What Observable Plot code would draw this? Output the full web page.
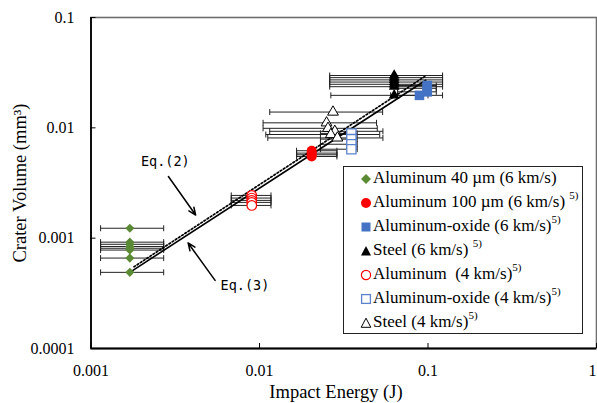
<!DOCTYPE html>
<html><head><meta charset="utf-8">
<script src="https://cdn.jsdelivr.net/npm/d3@7"></script>
<script src="https://cdn.jsdelivr.net/npm/@observablehq/plot@0.6"></script>
<style>
body{margin:0;background:#fff;}
#wrap{position:relative;width:597px;height:403px;overflow:hidden;}
#legend{position:absolute;left:342.7px;top:165.7px;width:240px;height:168.6px;border:1.3px solid #222;box-sizing:border-box;background:#fff;font-family:"Liberation Serif","Times New Roman",serif;font-size:17px;color:#000;}
.row{position:absolute;left:0;height:24px;line-height:24px;white-space:pre;}
.row svg{position:absolute;left:14.3px;top:5px;}
.row .t{position:absolute;left:29.3px;top:0;}
.sup{font-size:11px;position:relative;top:-8px;}
</style>
</head><body>
<div id="wrap"><div id="chart"></div><div id="legend"></div></div>
<script>
// [impact energy (J), crater volume (mm3), energy error low, energy error high]
const al40um6 = [
  [0.0017, 0.00123, 0.00114, 0.0027],
  [0.0017, 0.00092, 0.00114, 0.0027],
  [0.0017, 0.00088, 0.00114, 0.0027],
  [0.0017, 0.00084, 0.00114, 0.0027],
  [0.0017, 0.00081, 0.00114, 0.0027],
  [0.0017, 0.00078, 0.00114, 0.0027],
  [0.0017, 0.00066, 0.00114, 0.0027],
  [0.0017, 0.00049, 0.00114, 0.0027]
];
const al100um6 = [
  [0.0204, 0.0062, 0.0166, 0.0288],
  [0.0204, 0.0059, 0.0166, 0.0288],
  [0.0204, 0.0057, 0.0166, 0.0288],
  [0.0204, 0.0055, 0.0166, 0.0288]
];
const alOxide6 = [
  [0.089, 0.0197, 0.060, 0.100],
  [0.099, 0.0212, 0.066, 0.112],
  [0.099, 0.0228, 0.066, 0.112],
  [0.099, 0.0242, 0.066, 0.112]
];
const steel6 = [
  [0.063, 0.0298, 0.0261, 0.122],
  [0.063, 0.0285, 0.0261, 0.122],
  [0.063, 0.0272, 0.0261, 0.122],
  [0.063, 0.0260, 0.0261, 0.122],
  [0.063, 0.0248, 0.0261, 0.122],
  [0.063, 0.0236, 0.0261, 0.122],
  [0.063, 0.0197, 0.0265, 0.122]
];
const al4 = [
  [0.009, 0.00244, 0.0068, 0.0117],
  [0.009, 0.00231, 0.0068, 0.0117],
  [0.009, 0.00220, 0.0068, 0.0117],
  [0.009, 0.00211, 0.0068, 0.0117],
  [0.009, 0.00198, 0.0068, 0.0117]
];
const alOxide4 = [
  [0.0351, 0.0089, 0.023, 0.038],
  [0.0351, 0.0079, 0.023, 0.038],
  [0.0351, 0.0071, 0.023, 0.038],
  [0.0351, 0.0064, 0.023, 0.038]
];
const steel4 = [
  [0.0273, 0.0139, 0.0115, 0.0538],
  [0.0250, 0.0111, 0.0105, 0.0495],
  [0.0255, 0.0099, 0.0105, 0.0500],
  [0.0280, 0.0093, 0.0115, 0.0540],
  [0.0265, 0.0087, 0.0109, 0.0517],
  [0.0290, 0.0081, 0.0112, 0.0540]
];
// fitted equations (end points)
const eq2E = [0.0018, 0.098], eq2V = [0.00055, 0.0299];
const eq3E = [0.0017, 0.097], eq3V = [0.00049, 0.027];
// annotations
const eqLabels = ["Eq.(2)", "Eq.(3)"];
const eqLabelE = [0.00276, 0.0082], eqLabelV = [0.00496, 0.000372];
const eqArrowE1 = [0.00288, 0.00545], eqArrowV1 = [0.00362, 0.000414];
const eqArrowE2 = [0.00418, 0.00377], eqArrowV2 = [0.00162, 0.000905];
// axes
const xTicks = [0.001, 0.01, 0.1, 1];
const yTicks = [0.0001, 0.001, 0.01, 0.1];
const xTitle = "Impact Energy (J)";
const yTitle = "Crater Volume (mm³)";
// legend
const legendLabels = ["Aluminum 40 µm (6 km/s)", "Aluminum 100 µm (6 km/s)", "Aluminum-oxide (6 km/s)", "Steel (6 km/s)", "Aluminum  (4 km/s)", "Aluminum-oxide (4 km/s)", "Steel (4 km/s)"];
const legendRefs = ["", " 5)", "5)", " 5)", "5)", "5)", "5)"];

const green = "#5a8a34", red = "#ff0000", blue = "#4472c4";
const toRows = arr => arr.map(([E, V, lo, hi]) => ({E, V, lo, hi}));
const groups = [al40um6, al100um6, alOxide6, steel6, al4, alOxide4, steel4].map(toRows);
const allRows = groups.flat();
const capSymbol = {draw(ctx) { ctx.moveTo(0, -3); ctx.lineTo(0, 3); }};
const eq2 = eq2E.map((E, i) => ({E, V: eq2V[i]}));
const eq3 = eq3E.map((E, i) => ({E, V: eq3V[i]}));
const labels = eqLabels.map((t, i) => ({t, E: eqLabelE[i], V: eqLabelV[i]}));
const arrows = eqArrowE1.map((E, i) => ({x1: E, y1: eqArrowV1[i], x2: eqArrowE2[i], y2: eqArrowV2[i]}));

const W = 597, H = 403, mL = 90.5, mR = 1, mT = 17, mB = 55;
const serif = "Liberation Serif";
const xTicksInner = xTicks.slice(0, -1), xTickLast = xTicks.slice(-1);

const plot = Plot.plot({
  width: W, height: H,
  marginLeft: mL, marginRight: mR, marginTop: mT, marginBottom: mB,
  style: {fontFamily: serif, fontSize: "16px", background: "#fff", color: "#000"},
  x: {type: "log", domain: [0.001, 1], axis: null},
  y: {type: "log", domain: [0.0001, 0.1], axis: null},
  marks: [
    Plot.frame({stroke: "#6e6e6e", strokeWidth: 1.6}),
    Plot.link(allRows, {x1: "lo", x2: "hi", y1: "V", y2: "V", stroke: "#222", strokeWidth: 1}),
    Plot.dot(allRows, {x: "lo", y: "V", symbol: capSymbol, r: 3, stroke: "#222", fill: "none", strokeWidth: 1}),
    Plot.dot(allRows, {x: "hi", y: "V", symbol: capSymbol, r: 3, stroke: "#222", fill: "none", strokeWidth: 1}),
    Plot.line(eq2, {x: "E", y: "V", stroke: "#000", strokeWidth: 1.7, strokeDasharray: "1.7,2.1"}),
    Plot.line(eq3, {x: "E", y: "V", stroke: "#000", strokeWidth: 1.6}),
    Plot.dot(groups[0], {x: "E", y: "V", symbol: "diamond2", r: 4.1, fill: green, stroke: "none"}),
    Plot.dot(groups[1], {x: "E", y: "V", symbol: "circle", r: 5, fill: red, stroke: "none"}),
    Plot.dot(groups[2], {x: "E", y: "V", symbol: "square", r: 5.4, fill: blue, stroke: "none"}),
    Plot.dot(groups[3], {x: "E", y: "V", symbol: "triangle", r: 4, fill: "#000", stroke: "none"}),
    Plot.dot(groups[4], {x: "E", y: "V", symbol: "circle", r: 4.8, fill: "#fff", stroke: red, strokeWidth: 1.2}),
    Plot.dot(groups[5], {x: "E", y: "V", symbol: "square", r: 5.2, fill: "#fff", stroke: "#5b82cc", strokeWidth: 1.3}),
    Plot.dot(groups[6], {x: "E", y: "V", symbol: "triangle", r: 4, fill: "#fff", stroke: "#000", strokeWidth: 1}),
    Plot.arrow(arrows, {x1: "x1", y1: "y1", x2: "x2", y2: "y2", stroke: "#000", strokeWidth: 1.5, headLength: 8, headAngle: 45}),
    Plot.text(labels, {x: "E", y: "V", text: "t", fontFamily: "DejaVu Sans Mono", fontSize: 13.5, fill: "#000"}),
    Plot.tickX(xTicks, {x: d => d, stroke: "#000", strokeWidth: 1, insetTop: H - mT - mB - 5}),
    Plot.tickY(yTicks, {y: d => d, stroke: "#000", strokeWidth: 1, insetRight: W - mL - mR - 5}),
    Plot.axisX(xTicksInner, {tickSize: 0, tickPadding: 16, tickFormat: d => String(d), fontSize: 16, fontFamily: serif, label: null}),
    Plot.axisX(xTickLast, {tickSize: 0, tickPadding: 16, dx: -4, tickFormat: d => String(d), fontSize: 16, fontFamily: serif, label: null}),
    Plot.axisY(yTicks, {tickSize: 0, tickPadding: 16.5, tickFormat: d => String(d), fontSize: 16, fontFamily: serif, label: null}),
    Plot.ruleX([0.001], {stroke: "#000", strokeWidth: 1.8}),
    Plot.ruleY([0.0001], {stroke: "#000", strokeWidth: 1.8}),
    Plot.text([xTitle], {frameAnchor: "bottom", dy: 44, dx: -7.8, text: d => d, textAnchor: "middle", lineAnchor: "middle", fontSize: 18.5, fontFamily: serif, fill: "#000"}),
    Plot.text([yTitle], {frameAnchor: "left", dx: -71.4, rotate: -90, text: d => d, textAnchor: "middle", lineAnchor: "middle", fontSize: 18.5, fontFamily: serif, fill: "#000"})
  ]
});
document.getElementById("chart").appendChild(plot);

// legend
const markerSvg = [
  `<polygon points="8,3 13,8 8,13 3,8" fill="${green}"/>`,
  `<circle cx="8" cy="8" r="5" fill="${red}"/>`,
  `<rect x="3.5" y="3.5" width="9" height="9" fill="${blue}"/>`,
  `<polygon points="8,3 13,12.5 3,12.5" fill="#000"/>`,
  `<circle cx="8" cy="8" r="4.6" fill="#fff" stroke="${red}" stroke-width="1.2"/>`,
  `<rect x="3.6" y="3.6" width="8.8" height="8.8" fill="#fff" stroke="#5b82cc" stroke-width="1.3"/>`,
  `<polygon points="8,3.2 12.8,12.3 3.2,12.3" fill="#fff" stroke="#000" stroke-width="1"/>`
];
const lg = document.getElementById("legend");
legendLabels.forEach((lab, i) => {
  const row = document.createElement("div");
  row.className = "row";
  row.style.top = (11.3 + 24.07 * i - 12) + "px";
  const ref = legendRefs[i];
  const refHtml = ref ? (ref.startsWith(" ") ? " " : "") + `<span class="sup">${ref.trim()}</span>` : "";
  row.innerHTML = `<svg width="16" height="16" viewBox="0 0 16 16">${markerSvg[i]}</svg><span class="t">${lab}${refHtml}</span>`;
  lg.appendChild(row);
});
</script>
</body></html>
